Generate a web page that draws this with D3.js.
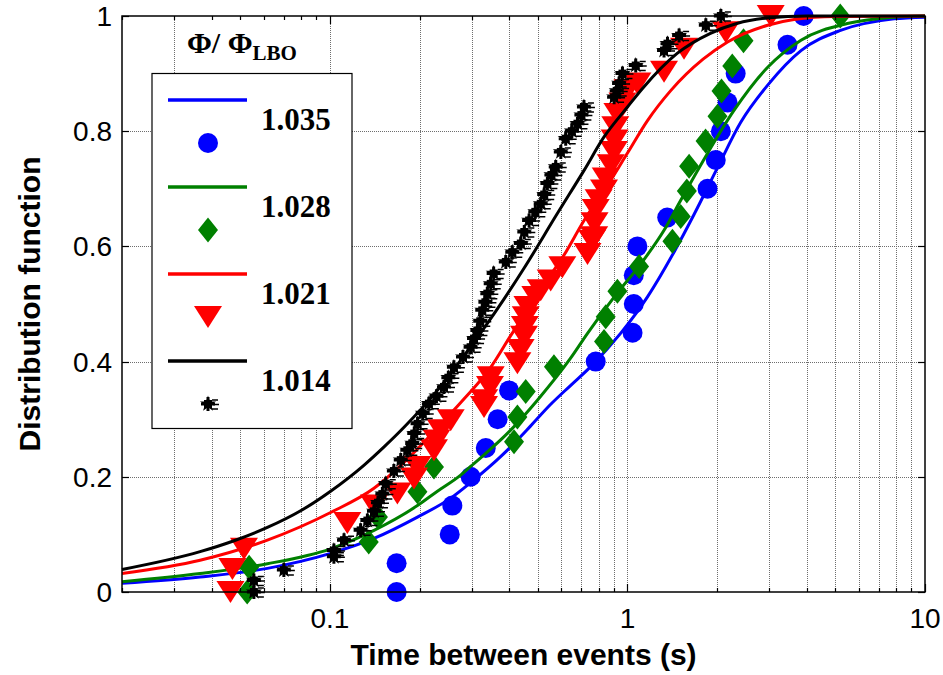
<!DOCTYPE html>
<html><head><meta charset="utf-8">
<script src="https://cdn.jsdelivr.net/npm/d3@7"></script>
<style>body{margin:0;background:#fff} svg{display:block}</style>
</head><body>
<svg id="chart" width="943" height="675"></svg>
<script>
// ---------- DATA ----------
const seriesLabels = ["1.035", "1.028", "1.021", "1.014"];
const seriesColors = ["#0000ff", "#008000", "#ff0000", "#000000"];
const xTickLabels = ["0.1", "1", "10"];
const xTickValues = [0.1, 1, 10];
const yTickValues = [0, 0.2, 0.4, 0.6, 0.8, 1];
const yTickLabels = ["0", "0.2", "0.4", "0.6", "0.8", "1"];

// fitted curves
const blueCurveX = [0.02, 0.0366, 0.0616, 0.1005, 0.1406, 0.1968, 0.2546, 0.297, 0.3746, 0.405, 0.472, 0.55, 0.642, 0.748, 0.948, 1.166, 1.433, 1.672, 2.0, 2.4, 2.96, 3.83, 5.2, 7.87, 10];
const blueCurveY = [0.015, 0.026, 0.041, 0.067, 0.093, 0.13, 0.163, 0.19, 0.235, 0.252, 0.288, 0.325, 0.358, 0.39, 0.449, 0.512, 0.59, 0.655, 0.735, 0.815, 0.88, 0.94, 0.975, 0.995, 0.998];
const greenCurveX = [0.02, 0.0366, 0.0616, 0.1005, 0.1406, 0.1968, 0.2297, 0.275, 0.297, 0.405, 0.498, 0.642, 0.734, 0.9015, 1.11, 1.327, 1.51, 1.855, 2.28, 2.96, 3.83, 5.48, 7.87, 10];
const greenCurveY = [0.018, 0.032, 0.049, 0.075, 0.107, 0.15, 0.175, 0.203, 0.218, 0.281, 0.333, 0.405, 0.449, 0.512, 0.57, 0.628, 0.68, 0.761, 0.836, 0.911, 0.958, 0.987, 0.998, 1.0];
const redCurveX = [0.02, 0.0366, 0.0616, 0.1005, 0.1406, 0.1774, 0.2297, 0.282, 0.347, 0.405, 0.461, 0.511, 0.612, 0.7146, 0.855, 1.0, 1.166, 1.395, 1.795, 2.17, 2.96, 3.63, 5.0, 10];
const redCurveY = [0.032, 0.055, 0.09, 0.138, 0.18, 0.225, 0.285, 0.335, 0.39, 0.445, 0.49, 0.526, 0.585, 0.645, 0.705, 0.762, 0.818, 0.87, 0.925, 0.955, 0.984, 0.994, 0.999, 1.0];
const blackCurveX = [0.02, 0.0366, 0.0476, 0.0616, 0.0797, 0.1005, 0.130, 0.152, 0.1774, 0.2297, 0.282, 0.3295, 0.384, 0.449, 0.581, 0.7146, 0.834, 1.0, 1.127, 1.4686, 1.90, 2.33, 3.0, 4.0, 10];
const blackCurveY = [0.039, 0.07, 0.089, 0.112, 0.141, 0.175, 0.22, 0.252, 0.286, 0.35, 0.41, 0.458, 0.508, 0.562, 0.657, 0.732, 0.79, 0.842, 0.875, 0.935, 0.97, 0.987, 0.997, 1.0, 1.0];

// measured points
const blueX = [0.1675, 0.1675, 0.2527, 0.2578, 0.297, 0.334, 0.366, 0.40, 0.782, 1.04, 1.05, 1.05, 1.08, 1.36, 1.858, 1.98, 2.06, 2.17, 2.31, 3.45, 3.91];
const blueY = [0, 0.05, 0.10, 0.15, 0.20, 0.25, 0.30, 0.35, 0.40, 0.45, 0.50, 0.55, 0.60, 0.65, 0.70, 0.75, 0.80, 0.85, 0.90, 0.95, 1.0];
const greenX = [0.0527, 0.0535, 0.135, 0.145, 0.1968, 0.2237, 0.4156, 0.4266, 0.455, 0.566, 0.834, 0.845, 0.925, 1.094, 1.416, 1.51, 1.583, 1.611, 1.83, 2.007, 2.07, 2.25, 2.455, 5.19];
const greenY = [0, 0.043, 0.087, 0.13, 0.174, 0.217, 0.261, 0.304, 0.348, 0.391, 0.435, 0.478, 0.522, 0.565, 0.609, 0.652, 0.696, 0.739, 0.783, 0.826, 0.870, 0.913, 0.957, 1.0];
const redX = [0.0463, 0.047, 0.0514, 0.1144, 0.1406, 0.1685, 0.1916, 0.1968, 0.2237, 0.228, 0.2356, 0.2546, 0.3295, 0.33, 0.345, 0.347, 0.4266, 0.4375, 0.449, 0.452, 0.455, 0.461, 0.49, 0.511, 0.552, 0.604, 0.734, 0.76, 0.773, 0.775, 0.782, 0.80, 0.834, 0.845, 0.879, 0.9, 0.905, 0.91, 0.925, 0.962, 1.0, 1.08, 1.327, 1.549, 2.141, 3.03];
const redY = [0.0, 0.04, 0.075, 0.12, 0.15, 0.171, 0.197, 0.217, 0.246, 0.263, 0.281, 0.298, 0.321, 0.333, 0.356, 0.373, 0.397, 0.42, 0.443, 0.46, 0.477, 0.495, 0.512, 0.524, 0.541, 0.564, 0.587, 0.61, 0.616, 0.64, 0.663, 0.68, 0.697, 0.718, 0.741, 0.764, 0.784, 0.807, 0.83, 0.848, 0.871, 0.883, 0.903, 0.943, 0.972, 1.0];
const blackX = [0.0555, 0.0555, 0.070, 0.1031, 0.1031, 0.1115, 0.1268, 0.1336, 0.1406, 0.145, 0.150, 0.154, 0.164, 0.173, 0.182, 0.189, 0.192, 0.197, 0.205, 0.215, 0.228, 0.2417, 0.25, 0.261, 0.28, 0.297, 0.305, 0.313, 0.32, 0.325, 0.333, 0.338, 0.347, 0.355, 0.39, 0.41, 0.438, 0.45, 0.467, 0.49, 0.511, 0.525, 0.538, 0.555, 0.574, 0.597, 0.62, 0.65, 0.679, 0.70, 0.714, 0.9015, 0.92, 0.937, 0.962, 1.066, 1.327, 1.363, 1.491, 1.834, 2.06];
const blackY = [0.0, 0.02, 0.038, 0.061, 0.072, 0.09, 0.107, 0.124, 0.14, 0.155, 0.17, 0.188, 0.21, 0.229, 0.246, 0.258, 0.275, 0.292, 0.31, 0.327, 0.34, 0.356, 0.372, 0.39, 0.408, 0.425, 0.44, 0.454, 0.47, 0.489, 0.503, 0.518, 0.535, 0.553, 0.573, 0.59, 0.605, 0.625, 0.645, 0.66, 0.674, 0.69, 0.709, 0.724, 0.738, 0.764, 0.787, 0.80, 0.813, 0.828, 0.842, 0.859, 0.87, 0.883, 0.90, 0.914, 0.94, 0.952, 0.966, 0.984, 1.0];

// ---------- CHART ----------
const W = 943, H = 675;
const L = 122, R = 925, T = 16, B = 592;
const svg = d3.select('#chart');
const x = d3.scaleLog().domain([0.02, 10]).range([L, R]);
const y = d3.scaleLinear().domain([0, 1]).range([B, T]);
const sans = "'Liberation Sans', Arial, Helvetica, sans-serif";
const serif = "'Liberation Serif', 'Times New Roman', serif";

svg.append('rect').attr('width', W).attr('height', H).attr('fill', '#fff');

// grid
const grid = svg.append('g').attr('stroke', '#6e6e6e').attr('stroke-width', 1).attr('stroke-dasharray', '1,1');
x.ticks().forEach(v => {
  if (v <= 0.02 || v >= 10) return;
  grid.append('line').attr('x1', Math.round(x(v)) + 0.5).attr('x2', Math.round(x(v)) + 0.5).attr('y1', T).attr('y2', B);
});
yTickValues.slice(1, -1).forEach(v => {
  grid.append('line').attr('x1', L).attr('x2', R).attr('y1', Math.round(y(v)) + 0.5).attr('y2', Math.round(y(v)) + 0.5);
});

// series
const series = [
  {cx: blueCurveX, cy: blueCurveY, px: blueX, py: blueY, kind: 'circle'},
  {cx: greenCurveX, cy: greenCurveY, px: greenX, py: greenY, kind: 'diamond'},
  {cx: redCurveX, cy: redCurveY, px: redX, py: redY, kind: 'triangle'},
  {cx: blackCurveX, cy: blackCurveY, px: blackX, py: blackY, kind: 'black'}
];
const line = d3.line().x(d => x(d[0])).y(d => y(d[1])).curve(d3.curveMonotoneX);
const starPath = d3.symbol(d3.symbolStar, 80)();

function drawMarker(g, kind, color, cx, cy) {
  const m = g.append('g').attr('transform', `translate(${cx},${cy})`);
  if (kind === 'circle') {
    m.append('circle').attr('r', 10).attr('fill', color);
  } else if (kind === 'diamond') {
    m.append('path').attr('d', 'M0,-12.5L10,0L0,12.5L-10,0Z').attr('fill', color);
  } else if (kind === 'triangle') {
    m.append('path').attr('d', 'M-14,-11L14,-11L0,11Z').attr('fill', color);
  } else {
    m.append('path').attr('d', starPath).attr('fill', color);
    m.append('path').attr('d', 'M-4,-4L4,-4L4,4L-4,4Z').attr('fill', color);
    m.append('path').attr('d', 'M-7,0L7,0M0,-7L0,7').attr('stroke', color).attr('stroke-width', 3);
    m.append('path').attr('d', 'M4,-4L10,-4M5,0.5L11,0.5M4,5L10,5').attr('stroke', color).attr('stroke-width', 1.5);
  }
}

series.forEach((s, i) => {
  const g = svg.append('g');
  const pts = s.cx.map((v, j) => [v, s.cy[j]]);
  g.append('path').attr('d', line(pts)).attr('fill', 'none').attr('stroke', seriesColors[i]).attr('stroke-width', 3);
  s.px.forEach((v, j) => drawMarker(g, s.kind, seriesColors[i], x(v), y(s.py[j])));
});

// title backdrop
svg.append('rect').attr('x', x(0.03) + 1).attr('y', T + 1).attr('width', x(0.1) - x(0.03) - 2).attr('height', 73 - T - 1).attr('fill', '#fff');
const title = svg.append('text').attr('x', 187).attr('y', 53).attr('font-family', serif).attr('font-weight', 'bold').attr('font-size', 30).attr('fill', '#000');
title.append('tspan').text('Φ/ Φ');
title.append('tspan').attr('font-size', 21).attr('dy', 7).text('LBO');

// legend
const lg = svg.append('g');
lg.append('rect').attr('x', 152).attr('y', 73.5).attr('width', 200).attr('height', 355).attr('fill', '#fff').attr('stroke', '#000').attr('stroke-width', 1.2);
seriesLabels.forEach((lab, i) => {
  const y0 = 100 + i * 87;
  lg.append('line').attr('x1', 168).attr('x2', 247).attr('y1', y0).attr('y2', y0).attr('stroke', seriesColors[i]).attr('stroke-width', 3.5);
  drawMarker(lg, series[i].kind, seriesColors[i], 208, y0 + 43);
  lg.append('text').attr('x', 261).attr('y', y0 + 30).attr('font-family', serif).attr('font-weight', 'bold').attr('font-size', 31).attr('fill', '#000').text(lab);
});

// frame + ticks
const ax = svg.append('g').attr('stroke', '#000');
ax.append('rect').attr('x', L).attr('y', T).attr('width', R - L).attr('height', B - T).attr('fill', 'none').attr('stroke-width', 1.5);
x.ticks().forEach(v => {
  const major = xTickValues.some(t => Math.abs(t - v) < 1e-9);
  const len = major ? 8 : 4;
  const px = Math.round(x(v)) + 0.5;
  ax.append('line').attr('x1', px).attr('x2', px).attr('y1', B).attr('y2', B - len).attr('stroke-width', 1.2);
  ax.append('line').attr('x1', px).attr('x2', px).attr('y1', T).attr('y2', T + len).attr('stroke-width', 1.2);
});
yTickValues.forEach(v => {
  const py = Math.round(y(v)) + 0.5;
  ax.append('line').attr('x1', L).attr('x2', L + 7).attr('y1', py).attr('y2', py).attr('stroke-width', 1.2);
  ax.append('line').attr('x1', R).attr('x2', R - 7).attr('y1', py).attr('y2', py).attr('stroke-width', 1.2);
});

// tick labels
xTickValues.forEach((v, i) => {
  svg.append('text').attr('x', x(v)).attr('y', 628).attr('text-anchor', 'middle').attr('font-family', sans).attr('font-size', 28).attr('fill', '#000').text(xTickLabels[i]);
});
yTickValues.forEach((v, i) => {
  svg.append('text').attr('x', 112).attr('y', y(v) + 10).attr('text-anchor', 'end').attr('font-family', sans).attr('font-size', 28).attr('fill', '#000').text(yTickLabels[i]);
});

// axis titles
svg.append('text').attr('x', (L + R) / 2).attr('y', 665).attr('text-anchor', 'middle').attr('font-family', sans).attr('font-weight', 'bold').attr('font-size', 30).attr('fill', '#000').text('Time between events (s)');
svg.append('text').attr('transform', `translate(40,${(T + B) / 2}) rotate(-90)`).attr('text-anchor', 'middle').attr('font-family', sans).attr('font-weight', 'bold').attr('font-size', 30).attr('fill', '#000').text('Distribution function');
</script>
</body></html>
